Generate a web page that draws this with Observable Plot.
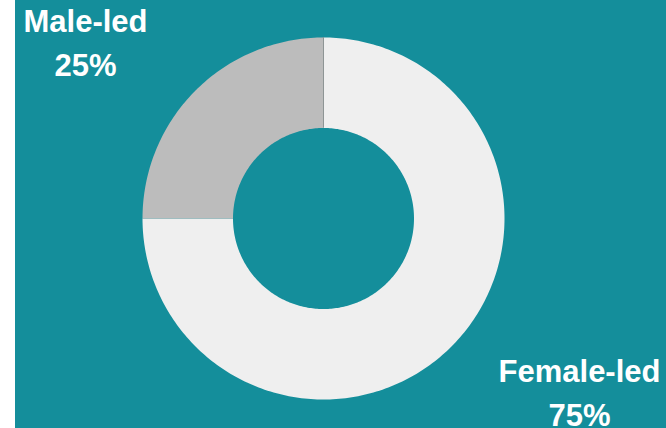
<!DOCTYPE html>
<html>
<head>
<meta charset="utf-8">
<script src="https://cdn.jsdelivr.net/npm/d3@7"></script>
<script src="https://cdn.jsdelivr.net/npm/@observablehq/plot@0.6"></script>
<style>
  html, body { margin: 0; padding: 0; background: #ffffff; }
  #chart { position: absolute; left: 15px; top: 0; width: 651px; height: 428px; background: #148e9b; overflow: hidden; }
  #chart svg { display: block; background: transparent; }
</style>
</head>
<body>
<div id="chart"></div>
<script>
// Data
const categories = ["Female-led", "Male-led"];
const shares = [75, 25];
const sliceColors = ["#efefef", "#bcbcbc"];

const innerRatio = 0.5;
const total = d3.sum(shares);

// build ring polygons (angle 0 at 12 o'clock, clockwise)
const pts = [];
let acc = 0;
categories.forEach((c, i) => {
  const a0 = acc / total * 2 * Math.PI;
  acc += shares[i];
  const a1 = acc / total * 2 * Math.PI;
  const n = Math.max(2, Math.ceil((a1 - a0) / (Math.PI / 180)));
  for (let k = 0; k <= n; k++) {
    const a = a0 + (a1 - a0) * k / n;
    pts.push({cat: c, x: Math.sin(a), y: Math.cos(a)});
  }
  for (let k = n; k >= 0; k--) {
    const a = a0 + (a1 - a0) * k / n;
    pts.push({cat: c, x: innerRatio * Math.sin(a), y: innerRatio * Math.cos(a)});
  }
});

const labels = categories.map((c, i) => ({cat: c, text: `${c}\n${shares[i]}%`}));

const W = 651, H = 428;
const cx = 308, cy = 218, R = 181;

const textStyle = {
  text: "text", frameAnchor: "top-left", lineAnchor: "top",
  textAnchor: "middle", lineHeight: 1.42, fill: "white", fontSize: 31, fontWeight: "bold"
};

const plot = Plot.plot({
  width: W,
  height: H,
  margin: 0,
  x: {domain: [-1, 1], range: [cx - R, cx + R], axis: null},
  y: {domain: [-1, 1], range: [cy + R, cy - R], axis: null},
  color: {domain: categories, range: sliceColors},
  style: {background: "transparent", fontFamily: "'Liberation Sans', Arial, sans-serif"},
  marks: [
    Plot.line(pts, {x: "x", y: "y", z: "cat", fill: "cat", stroke: null, curve: "linear-closed"}),
    Plot.ruleX([0], {y1: innerRatio, y2: 1, stroke: "#8a8a8a", strokeWidth: 0.8}),
    Plot.text(labels.filter(d => d.cat === "Male-led"), {...textStyle, dx: 70, dy: 0}),
    Plot.text(labels.filter(d => d.cat === "Female-led"), {...textStyle, dx: 564, dy: 350})
  ]
});
document.getElementById("chart").appendChild(plot);
</script>
</body>
</html>
